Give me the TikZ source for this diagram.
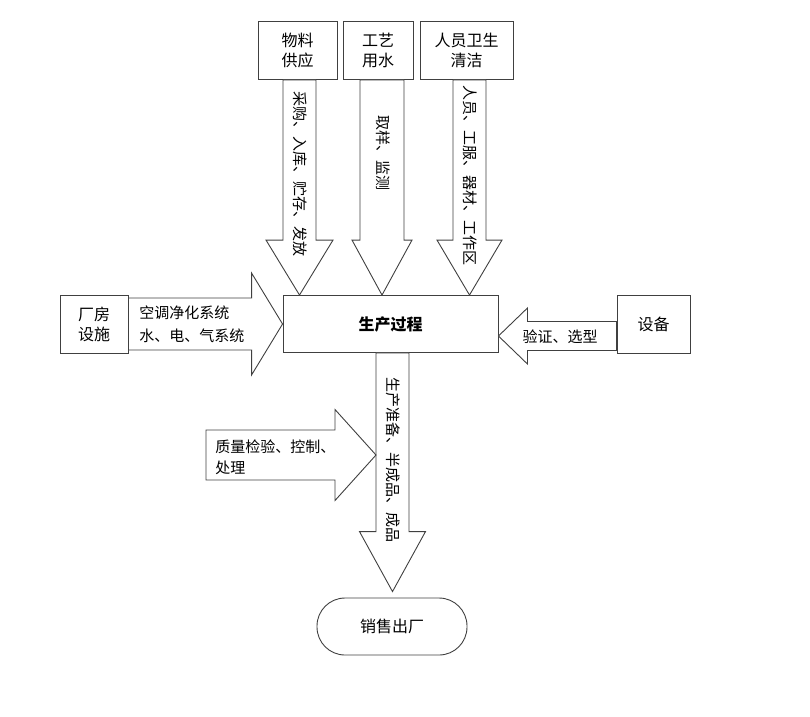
\documentclass[tikz,border=0pt]{standalone}
\usepackage{fontspec}
\newfontfamily\cjk{Noto Sans CJK SC}
\usepackage{tikz}
\usetikzlibrary{calc}

% fat block arrow: from, to, half shaft, half head, head length
\newcommand{\fatarrow}[5]{%
  \coordinate (fa) at ($(#2)!#5pt!(#1)$);
  \draw[fill=white] ($(#1)!#3pt!90:(#2)$) -- ($(fa)!#3pt!-90:(#1)$) -- ($(fa)!#4pt!-90:(#1)$) -- (#2)
    -- ($(fa)!#4pt!90:(#1)$) -- ($(fa)!#3pt!90:(#1)$) -- ($(#1)!#3pt!-90:(#2)$) -- cycle;
}

\begin{document}
\begin{tikzpicture}[x=1pt, y=-1pt, line width=0.9pt, draw=black!75,
	box/.style={draw=black!75, rectangle, inner sep=0pt, align=center, font=\cjk\fontsize{16}{20}\selectfont},
	label/.style={inner sep=0pt, font=\cjk\fontsize{15}{22}\selectfont}]
			\useasboundingbox (0, 0) rectangle (810, 716);
			
			\node[box, minimum width=79, minimum height=58] (supply) at (297.5, 50.5) {物料\\供应};
			\node[box, minimum width=70, minimum height=58] (water) at (378, 50.5) {工艺\\用水};
			\node[box, minimum width=93, minimum height=58] (hygiene) at (466.5, 50.5) {人员卫生\\清洁};
			\node[box, minimum width=215, minimum height=57, font=\cjk\bfseries\fontsize{16}{20}\selectfont] (proc) at (390.5, 324) {生产过程};
			\node[box, minimum width=68, minimum height=58] (plant) at (94, 324) {厂房\\设施};
			\node[box, minimum width=73, minimum height=58] (equip) at (653.5, 324) {设备};
			\node[box, minimum width=150, minimum height=57, rounded corners=28] (sales) at (392, 626.5) {销售出厂};
			
			\coordinate (supplyout) at ([xshift=2pt]supply.south);
			\coordinate (supplyin) at (supplyout |- proc.north);
			\coordinate (waterout) at ([xshift=4pt]water.south);
			\coordinate (waterin) at (waterout |- proc.north);
			\coordinate (hygout) at ([xshift=3pt]hygiene.south);
			\coordinate (hygin) at (hygout |- proc.north);
			\coordinate (plantin) at (plant.east -| proc.west);
			\coordinate (equipout) at ([yshift=-12pt]equip.west);
			\coordinate (equipin) at (equipout -| proc.east);
			\coordinate (procout) at ([xshift=2pt]proc.south);
			\coordinate (salesin) at ($(procout |- sales.north)+(0, -6)$);
			\coordinate (qcout) at (206, 455);
			\coordinate (qcin) at ($(procout |- qcout)+(-16.5, 0)$);
			
			\fatarrow{supplyout}{supplyin}{16.5}{33.5}{55}
			\fatarrow{waterout}{waterin}{22}{30}{55}
			\fatarrow{hygout}{hygin}{16.5}{32.5}{55}
			\fatarrow{plant.east}{plantin}{26}{51}{31}
			\fatarrow{equipout}{equipin}{14.5}{28}{29}
			\fatarrow{procout}{salesin}{16.5}{33}{60}
			\fatarrow{qcout}{qcin}{25}{45.5}{41}
			
			\node[label, rotate=-90] (buy) at (300, 174) {采购、入库、贮存、发放};
			\node[label, rotate=-90] (sample) at (383, 153) {取样、监测};
			\node[label, rotate=-90] (staff) at (470, 175) {人员、工服、器材、工作区};
			\node[label, rotate=-90] (goods) at (393, 460) {生产准备、半成品、成品};
			\node[label, anchor=west, align=left, font=\cjk\fontsize{15}{23}\selectfont] (hvac) at (139, 324.5) {空调净化系统\\水、电、气系统};
			\node[label] (check) at (560, 337) {验证、选型};
			\node[label, anchor=west, align=left, font=\cjk\fontsize{15}{21}\selectfont] (qc) at (215, 457.5) {质量检验、控制、\\处理};
		\end{tikzpicture}
\end{document}
